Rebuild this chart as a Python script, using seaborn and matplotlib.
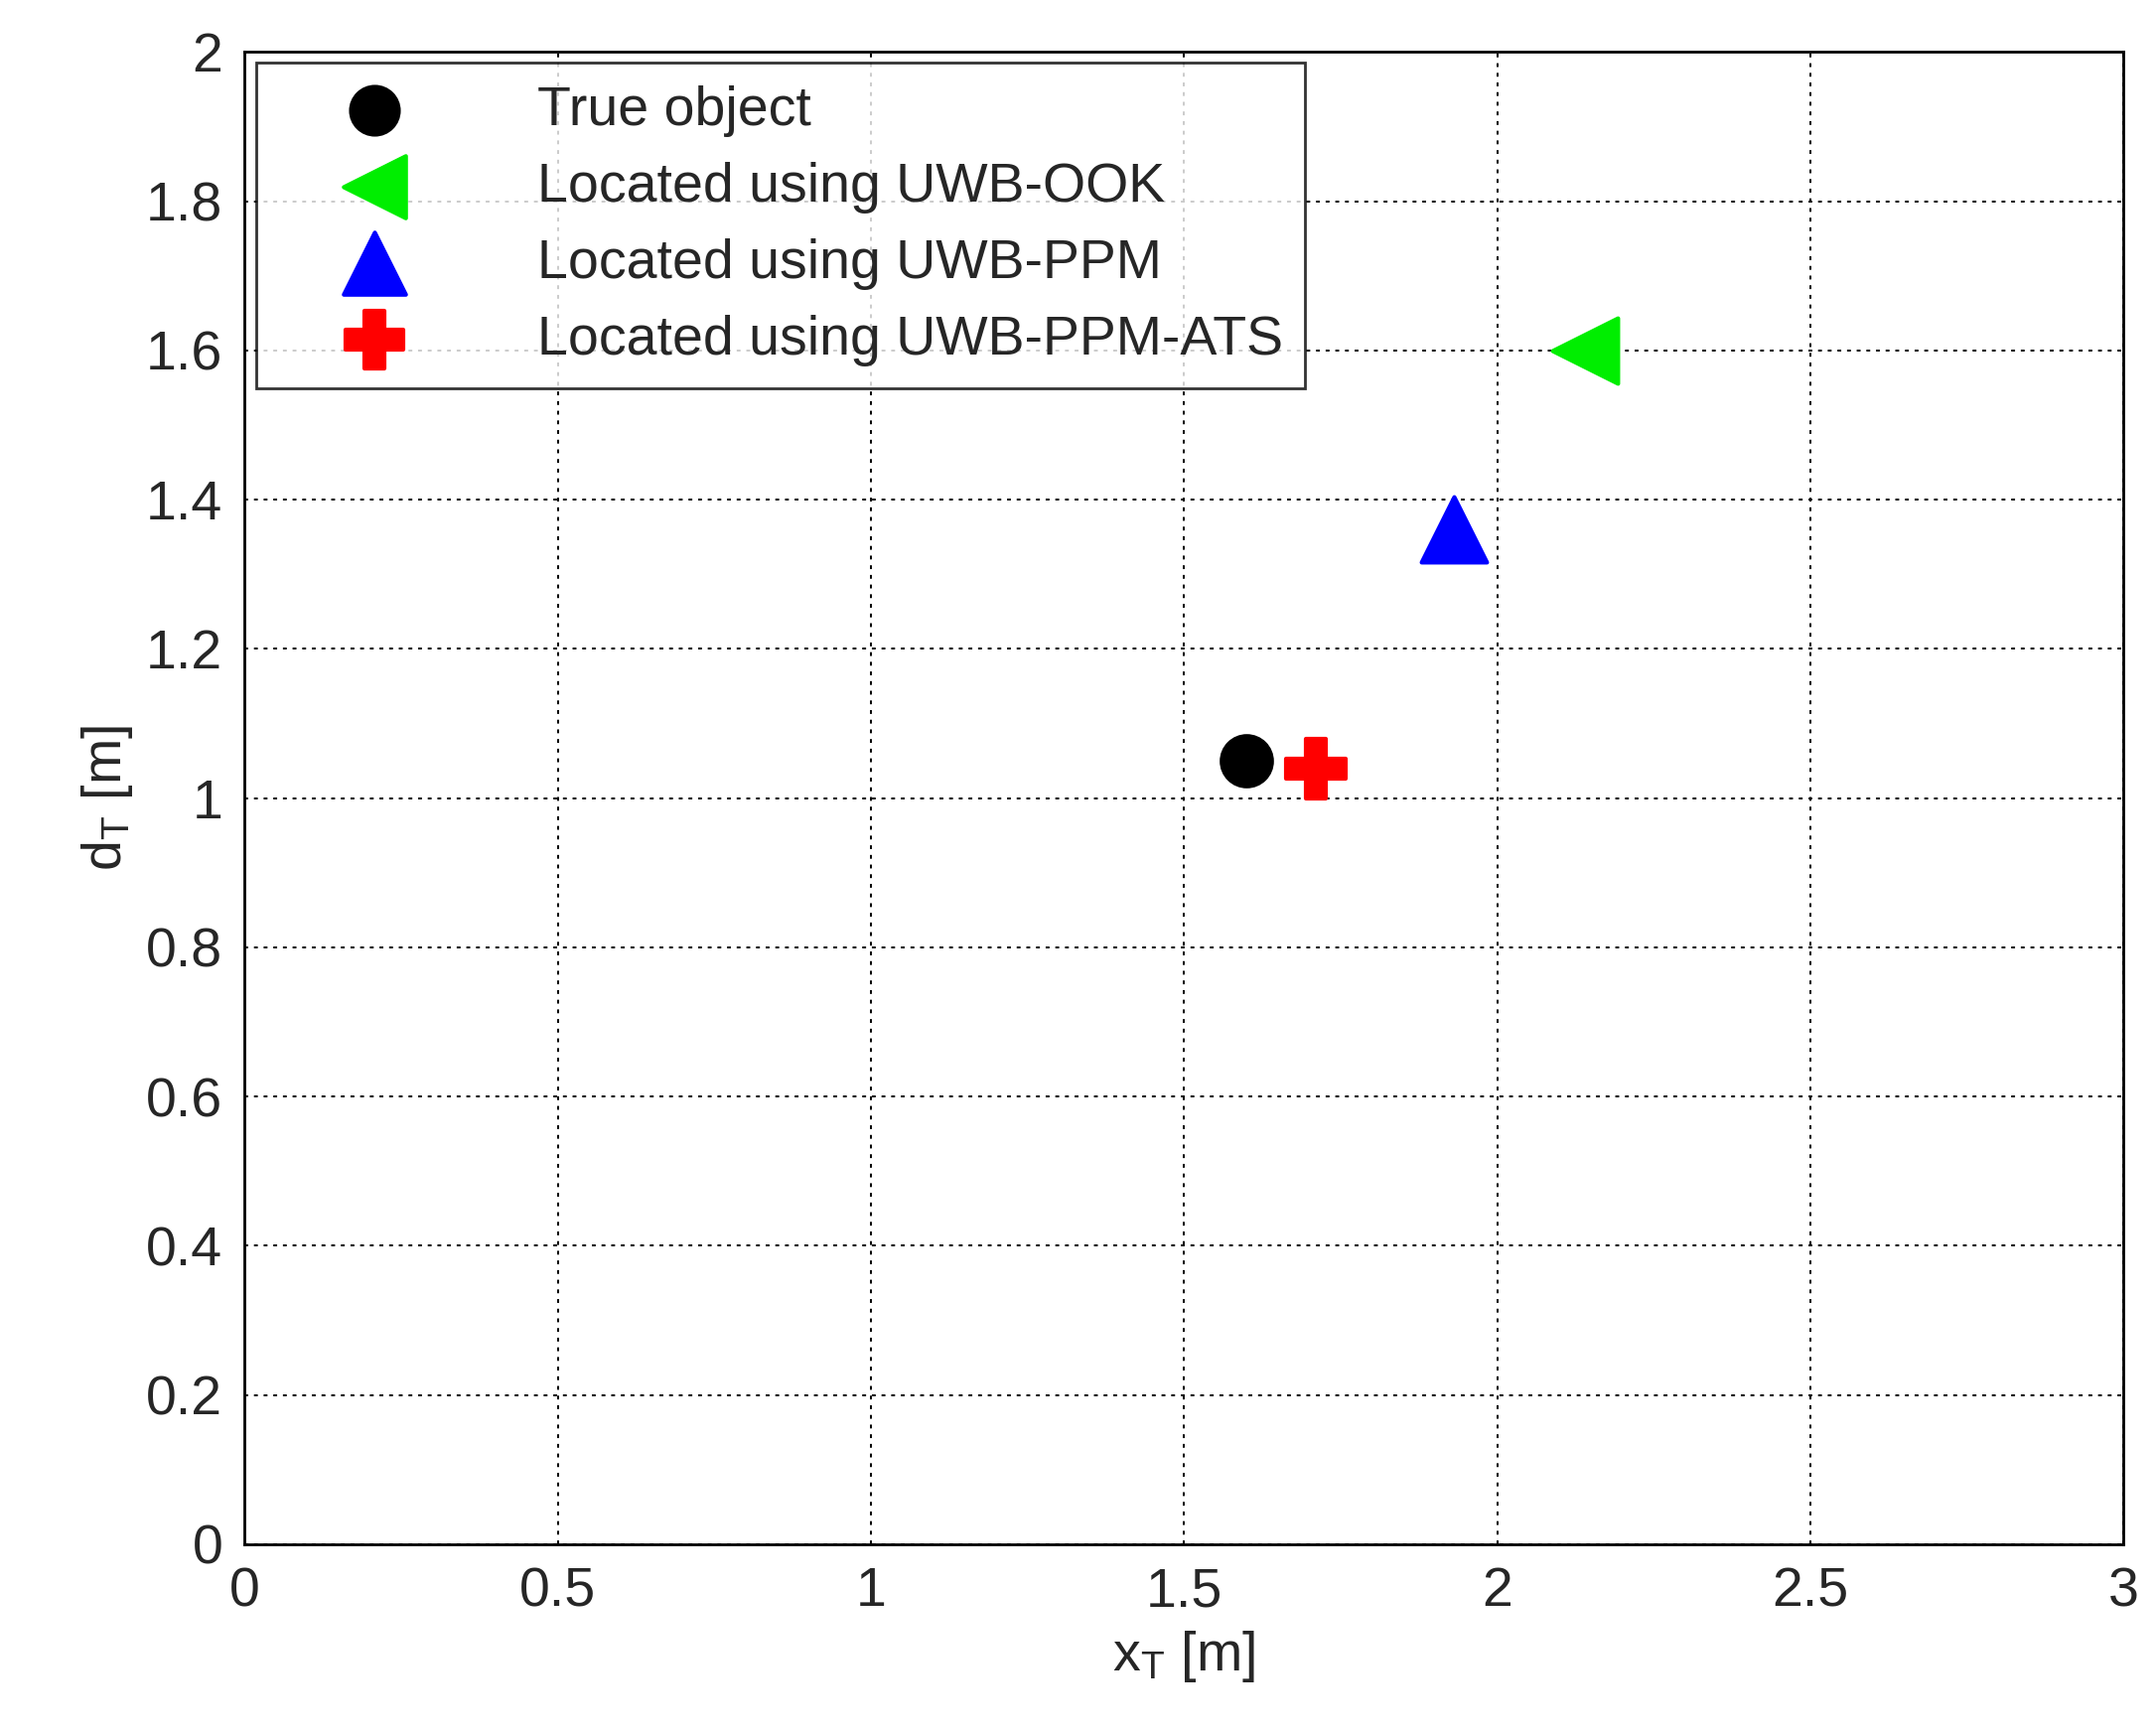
import matplotlib
matplotlib.use('Agg')
import matplotlib.pyplot as plt
import seaborn as sns
import pandas as pd

# ── data ─────────────────────────────────────────────
labels = ['True object', 'Located using UWB-OOK', 'Located using UWB-PPM', 'Located using UWB-PPM-ATS']
x_vals = [1.60, 2.14, 1.93, 1.71]
d_vals = [1.05, 1.60, 1.36, 1.04]
markers = ['o', '<', '^', 'P']
colors = ['black', '#00ee00', '#0000ff', '#ff0000']
sizes = [330, 560, 560, 480]

sns.set_style('white')
plt.rcParams['font.family'] = ['Liberation Sans', 'DejaVu Sans']

fig = plt.figure(figsize=(10.855, 8.725), dpi=200)
ax = fig.add_axes([0.1135, 0.109, 0.8715, 0.861])

df = pd.DataFrame({'x': x_vals, 'd': d_vals, 'label': labels})
for i, row in df.iterrows():
    sns.scatterplot(x=[row['x']], y=[row['d']], marker=markers[i], color=colors[i],
                    s=sizes[i], edgecolor=colors[i], linewidth=1.5, label=row['label'], ax=ax)

ax.set_xlim(0, 3)
ax.set_ylim(0, 2)
ax.set_xticks([0, 0.5, 1, 1.5, 2, 2.5, 3])
ax.set_xticklabels(['0', '0.5', '1', '1.5', '2', '2.5', '3'])
ax.set_yticks([0, 0.2, 0.4, 0.6, 0.8, 1, 1.2, 1.4, 1.6, 1.8, 2])
ax.set_yticklabels(['0', '0.2', '0.4', '0.6', '0.8', '1', '1.2', '1.4', '1.6', '1.8', '2'])
ax.tick_params(labelsize=20, direction='in', length=5, color='black', pad=8)
ax.grid(True, color='black', linestyle=(0, (2, 3)), linewidth=0.7)
for s in ax.spines.values():
    s.set_color('black')
    s.set_linewidth(1)
ax.set_xlabel('$\\mathregular{x_T}$ [m]', fontsize=20)
ax.set_ylabel('$\\mathregular{d_T}$ [m]', fontsize=20)

leg = ax.legend(loc='upper left', fontsize=20, frameon=True, fancybox=False,
                edgecolor='black', borderaxespad=0.2, handletextpad=1.2,
                handlelength=3.5, labelspacing=0.45, markerscale=0.95)
leg.get_frame().set_linewidth(1)

fig.savefig('out.png', dpi=200, facecolor='white')
